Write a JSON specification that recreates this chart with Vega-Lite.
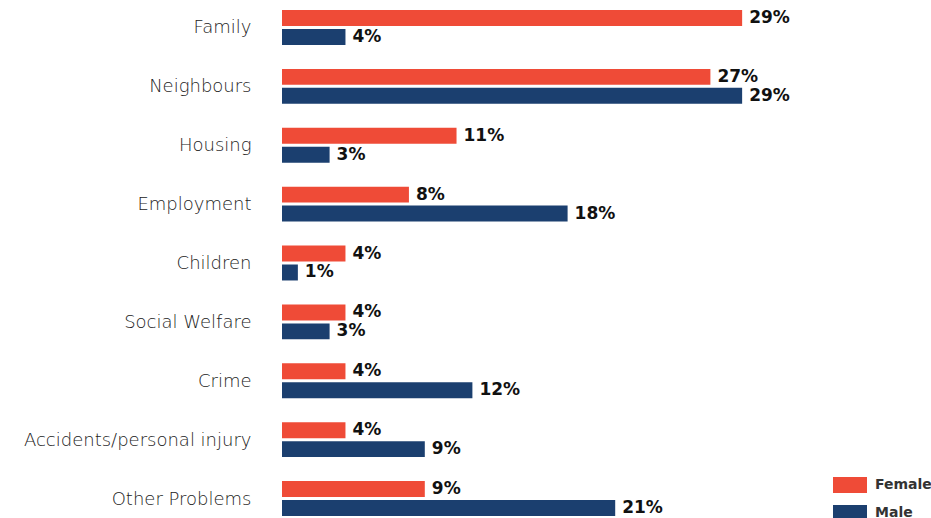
{
  "$schema": "https://vega.github.io/schema/vega-lite/v6.json",
  "width": 476,
  "height": 526,
  "autosize": {"type": "none"},
  "padding": {"left": 282, "top": 0, "right": 173, "bottom": 0},
  "config": {"view": {"stroke": null}, "font": "DejaVu Sans"},
  "data": {"values": [
    {"problem": "Family", "gender": "Female", "value": 0.29},
    {"problem": "Family", "gender": "Male", "value": 0.04},
    {"problem": "Neighbours", "gender": "Female", "value": 0.27},
    {"problem": "Neighbours", "gender": "Male", "value": 0.29},
    {"problem": "Housing", "gender": "Female", "value": 0.11},
    {"problem": "Housing", "gender": "Male", "value": 0.03},
    {"problem": "Employment", "gender": "Female", "value": 0.08},
    {"problem": "Employment", "gender": "Male", "value": 0.18},
    {"problem": "Children", "gender": "Female", "value": 0.04},
    {"problem": "Children", "gender": "Male", "value": 0.01},
    {"problem": "Social Welfare", "gender": "Female", "value": 0.04},
    {"problem": "Social Welfare", "gender": "Male", "value": 0.03},
    {"problem": "Crime", "gender": "Female", "value": 0.04},
    {"problem": "Crime", "gender": "Male", "value": 0.12},
    {"problem": "Accidents/personal injury", "gender": "Female", "value": 0.04},
    {"problem": "Accidents/personal injury", "gender": "Male", "value": 0.09},
    {"problem": "Other Problems", "gender": "Female", "value": 0.09},
    {"problem": "Other Problems", "gender": "Male", "value": 0.21}
  ]},
  "encoding": {
    "y": {
      "field": "problem", "type": "nominal", "sort": null,
      "scale": {"paddingInner": 0.406, "paddingOuter": 0.17},
      "axis": {"title": null, "domain": false, "ticks": false, "labelPadding": 31, "labelLimit": 400,
               "labelOffset": 1, "labelFontSize": 18, "labelColor": "#222222", "labelFont": "DejaVu Sans", "labelFontWeight": 200}
    },
    "yOffset": {"field": "gender", "type": "nominal", "sort": ["Female", "Male"],
                "scale": {"paddingInner": 0.158, "paddingOuter": 0}},
    "x": {"field": "value", "type": "quantitative", "scale": {"domain": [0, 0.3]}, "axis": null}
  },
  "layer": [
    {
      "mark": {"type": "bar"},
      "encoding": {
        "color": {
          "field": "gender", "type": "nominal",
          "scale": {"domain": ["Female", "Male"], "range": ["#EF4B37", "#1B3F6F"]},
          "legend": {
            "orient": "none", "legendX": 551, "legendY": 468, "title": null, "padding": 0,
            "rowPadding": 3,
            "symbolType": "M-1,-0.47H1V0.47H-1Z", "symbolSize": 1156, "symbolStrokeWidth": 0,
            "symbolOpacity": 1, "labelOffset": 8,
            "labelFontSize": 14, "labelFontWeight": "bold", "labelColor": "#333333", "labelFont": "DejaVu Sans"
          }
        }
      }
    },
    {
      "mark": {"type": "text", "align": "left", "baseline": "middle", "dx": 7,
               "fontWeight": "bold", "fontSize": 17, "color": "#111111", "font": "DejaVu Sans"},
      "encoding": {"text": {"field": "value", "type": "quantitative", "format": ".0%"}}
    }
  ]
}
